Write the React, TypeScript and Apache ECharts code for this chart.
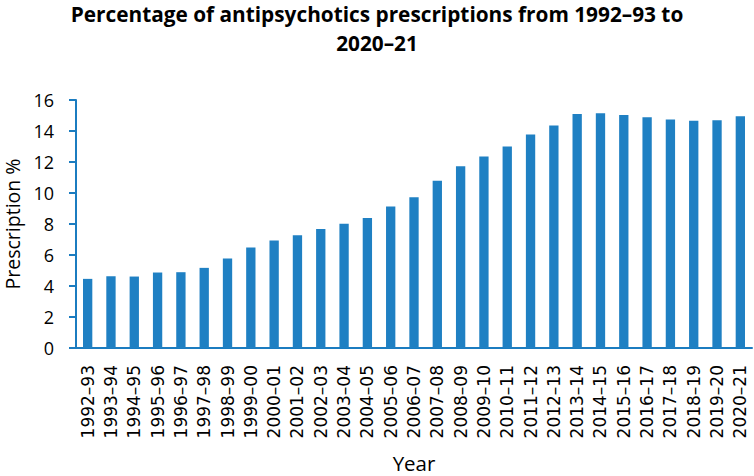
import React, { useEffect, useRef } from "react";
import * as echarts from "echarts";

const categories = [
  "1992–93", "1993–94", "1994–95", "1995–96", "1996–97", "1997–98", "1998–99", "1999–00",
  "2000–01", "2001–02", "2002–03", "2003–04", "2004–05", "2005–06", "2006–07", "2007–08",
  "2008–09", "2009–10", "2010–11", "2011–12", "2012–13", "2013–14", "2014–15", "2015–16",
  "2016–17", "2017–18", "2018–19", "2019–20", "2020–21",
];

const prescriptionPct = [
  4.46, 4.63, 4.61, 4.87, 4.89, 5.17, 5.77, 6.48, 6.93, 7.28, 7.67, 8.01, 8.38, 9.13, 9.73,
  10.79, 11.72, 12.36, 13.0, 13.78, 14.36, 15.1, 15.14, 15.03, 14.88, 14.75, 14.66, 14.69, 14.95,
];

const titleLine1 = "Percentage of antipsychotics prescriptions from 1992–93 to";
const titleLine2 = "2020–21";
const barColor = "#1f80c3";
const axisColor = "#1b7cc0";

export default function App() {
  const ref = useRef<HTMLDivElement>(null);
  useEffect(() => {
    if (!ref.current) return;
    const chart = echarts.init(ref.current, undefined, { renderer: "svg" });
    const titleFont = {
      fontFamily: "Open Sans",
      fontWeight: "bold" as const,
      fontSize: 20.8,
      color: "#000",
    };
    chart.setOption({
      animation: false,
      backgroundColor: "#ffffff",
      title: {
        text: `{a|${titleLine1}}\n{b|${titleLine2}}`,
        left: "center",
        top: 3,
        padding: 0,
        textStyle: {
          ...titleFont,
          rich: {
            a: { ...titleFont, lineHeight: 22 },
            b: { ...titleFont, lineHeight: 36 },
          },
        },
      },
      grid: {
        left: 76,
        right: 2,
        top: 100,
        bottom: 128,
        containLabel: false,
        outerBoundsMode: "none",
      },
      xAxis: {
        type: "category",
        data: categories,
        name: "Year",
        nameLocation: "middle",
        nameGap: 104,
        nameTextStyle: { fontFamily: "Open Sans", fontSize: 20.5, color: "#000" },
        axisLine: { lineStyle: { color: axisColor, width: 2 } },
        axisTick: { show: false },
        axisLabel: {
          rotate: 90,
          margin: 17,
          fontFamily: "DejaVu Sans",
          fontSize: 17,
          color: "#000",
          interval: 0,
        },
      },
      yAxis: {
        type: "value",
        min: 0,
        max: 16,
        interval: 2,
        name: "Prescription %",
        nameLocation: "middle",
        nameGap: 52,
        nameTextStyle: { fontFamily: "Open Sans", fontSize: 19.5, color: "#000" },
        axisLine: { show: true, lineStyle: { color: axisColor, width: 2 } },
        axisTick: { show: true, length: 7, lineStyle: { color: axisColor, width: 2 } },
        splitLine: { show: false },
        axisLabel: { margin: 22, fontFamily: "Open Sans", fontSize: 18, color: "#000" },
      },
      series: [
        {
          type: "bar",
          data: prescriptionPct,
          barWidth: "40%",
          itemStyle: { color: barColor },
        },
      ],
    });
    return () => chart.dispose();
  }, []);
  return (
    <div
      ref={ref}
      style={{ position: "fixed", left: 0, top: 0, width: 754, height: 476 }}
    />
  );
}
